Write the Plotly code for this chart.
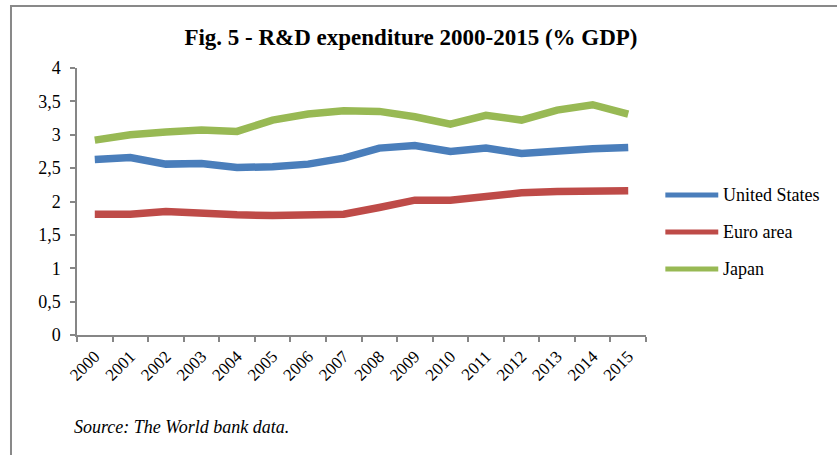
import plotly.graph_objects as go

# Datos (% del PIB)
years = [str(y) for y in range(2000, 2016)]
united_states = [2.63, 2.66, 2.56, 2.57, 2.51, 2.52, 2.56, 2.65, 2.80, 2.84,
                 2.75, 2.80, 2.72, 2.76, 2.79, 2.81]
euro_area = [1.81, 1.81, 1.85, 1.82, 1.80, 1.79, 1.81, 1.81, 1.91, 2.02,
             2.02, 2.07, 2.13, 2.15, 2.16, 2.16]
japan = [2.92, 3.00, 3.04, 3.07, 3.05, 3.22, 3.31, 3.36, 3.35, 3.27,
         3.16, 3.29, 3.22, 3.37, 3.45, 3.31]

series_names = ["United States", "Euro area", "Japan"]
series_values = [united_states, euro_area, japan]
series_colors = ["#4A7EBB", "#BE4B48", "#98B954"]

FONT = "Liberation Serif"
AXIS_GREY = "#868686"

fig = go.Figure()
for name, vals, color in zip(series_names, series_values, series_colors):
    fig.add_trace(go.Scatter(
        x=years, y=vals, mode="lines", name=name,
        line=dict(color=color, width=7.5),
        showlegend=False
    ))

# Leyenda manual (línea + texto) a la derecha
legend_y = [0.524, 0.386, 0.247]
for name, color, ly in zip(series_names, series_colors, legend_y):
    fig.add_shape(type="line", xref="paper", yref="paper",
                  x0=1.034, x1=1.127, y0=ly, y1=ly,
                  line=dict(color=color, width=5))
    fig.add_annotation(x=1.131, y=ly, xref="paper", yref="paper",
                       text=name, showarrow=False, xanchor="left",
                       yanchor="middle",
                       font=dict(family=FONT, size=18, color="black"))

# Marco gris del gráfico
fig.add_shape(type="rect", xref="paper", yref="paper",
              x0=-0.116, x1=1.35, y0=-0.5, y1=1.232,
              line=dict(color="#898989", width=2), fillcolor="rgba(0,0,0,0)")

fig.add_annotation(x=-0.009, y=-0.345, xref="paper", yref="paper",
                   text="<i>Source: The World bank data.</i>", showarrow=False,
                   xanchor="left", yanchor="middle",
                   font=dict(family=FONT, size=18, color="black"))

fig.update_layout(
    width=837, height=455,
    margin=dict(l=77, r=191, t=68, b=120),
    paper_bgcolor="white", plot_bgcolor="white",
    separators=", ",
    title=dict(text="<b>Fig. 5 - R&D expenditure 2000-2015 (% GDP)</b>",
               x=0.491, xref="container", xanchor="center",
               y=0.918, yanchor="middle",
               font=dict(family=FONT, size=23, color="black")),
    font=dict(family=FONT, color="black"),
)

fig.update_xaxes(
    type="category", tickson="boundaries", range=[-0.5, 15.5],
    showline=True, linecolor=AXIS_GREY, linewidth=1.5,
    ticks="outside", ticklen=5, tickcolor=AXIS_GREY, tickwidth=1.5,
    tickangle=-45, tickfont=dict(family=FONT, size=17, color="black"),
    ticklabelstandoff=3,
    showgrid=False, zeroline=False,
)
fig.update_yaxes(
    range=[0, 4], dtick=0.5, tick0=0,
    showline=True, linecolor=AXIS_GREY, linewidth=1.5,
    ticks="outside", ticklen=5, tickcolor=AXIS_GREY, tickwidth=1.5,
    tickfont=dict(family=FONT, size=18, color="black"),
    ticklabelstandoff=6,
    showgrid=False, zeroline=False,
)

# Quitar el margen por defecto del body para que la figura empiece en (0,0)
fig.write_html("out.html", config={"displayModeBar": False},
               post_script="document.body.style.margin='0';")
